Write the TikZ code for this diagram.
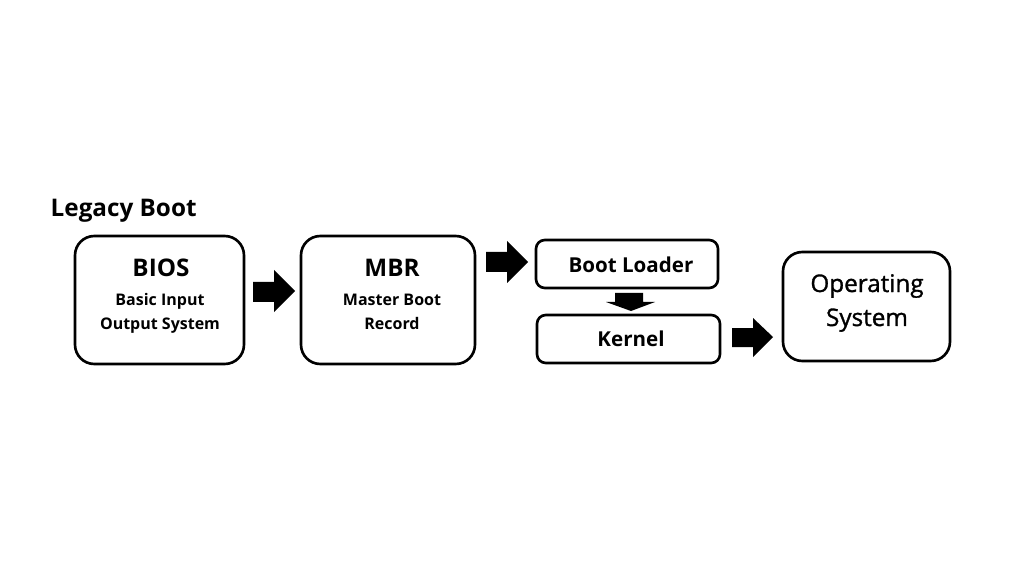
\documentclass[tikz,border=0pt]{standalone}
\usepackage{fontspec}
\setmainfont{Open Sans}
\newfontfamily\osfont[FakeBold=1.2]{Open Sans}
\begin{document}
\begin{tikzpicture}[x=0.01cm,y=-0.01cm,
  bigbox/.style={draw,line width=0.75pt,rounded corners=5.5pt},
  smallbox/.style={draw,line width=0.75pt,rounded corners=2.5pt},
  ttl/.style={font=\fontsize{6.9pt}{7pt}\selectfont\bfseries,anchor=base,inner sep=0pt},
  lbl/.style={font=\fontsize{5.85pt}{6pt}\selectfont\bfseries,anchor=base,inner sep=0pt},
  sub/.style={font=\fontsize{4.55pt}{5pt}\selectfont\bfseries,anchor=base,inner sep=0pt},
  os/.style={font=\osfont\fontsize{6.9pt}{7pt}\selectfont,anchor=base,inner sep=0pt},
  blk/.style={fill=black}]
\useasboundingbox (0,0) rectangle (1024,576);
% boxes
\draw[bigbox] (75,236) rectangle (244,364);
\draw[bigbox] (301,236) rectangle (475,364);
\draw[smallbox] (536,240) rectangle (718,288);
\draw[smallbox] (537,315) rectangle (720,363);
\draw[bigbox] (783,252) rectangle (950,361);
% texts
\node[ttl,anchor=base west] (title) at (50,217) {Legacy Boot};
\node[ttl] (bios) at (161,277) {BIOS};
\node[sub] (bios1) at (160,305) {Basic Input};
\node[sub] (bios2) at (160,330) {Output System};
\node[ttl] (mbr) at (392,277) {MBR};
\node[sub] (mbr1) at (392,305) {Master Boot};
\node[sub] (mbr2) at (392,330) {Record};
\node[lbl] (bl) at (631,272) {Boot Loader};
\node[lbl] (kern) at (631,347) {Kernel};
\node[os] (os1) at (867,292) {Operating};
\node[os] (os2) at (867,326) {System};
% block arrows
\fill[blk] (253,282) -- (274,282) -- (274,270) -- (295,291) -- (274,312) -- (274,302) -- (253,302) -- cycle;
\fill[blk] (486,252) -- (507,252) -- (507,241) -- (528,262) -- (507,283) -- (507,272) -- (486,272) -- cycle;
\fill[blk] (615,293) -- (643,293) -- (643,302) -- (655,302) -- (631,311) -- (606,302) -- (615,302) -- cycle;
\fill[blk] (732,328) -- (753,328) -- (753,318) -- (773,337) -- (753,357) -- (753,347) -- (732,347) -- cycle;
\end{tikzpicture}
\end{document}
